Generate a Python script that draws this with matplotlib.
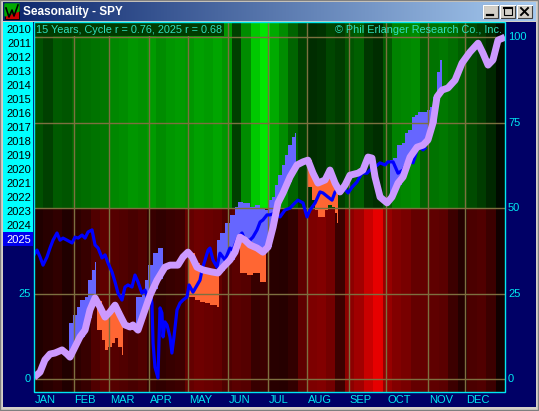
import numpy as np
import matplotlib.pyplot as plt
from matplotlib.patches import Rectangle
from matplotlib.colors import LinearSegmentedColormap

plt.rcParams['font.family'] = ['Liberation Sans', 'DejaVu Sans']

# x axis is in trading days (0..250), y axis is the 0..100 seasonal scale
month_labels = ['JAN', 'FEB', 'MAR', 'APR', 'MAY', 'JUN', 'JUL', 'AUG', 'SEP', 'OCT', 'NOV', 'DEC']
month_starts = [0, 21, 40, 61, 82, 103, 124, 145, 167, 187, 209, 229]
year_days = 250
years = [str(y) for y in range(2010, 2026)]
scale_ticks = [0, 25, 50, 75, 100]

# 15 year seasonal cycle (lavender)
cycle_day = [0, 3.2, 5.8, 8.5, 11.1, 14.9, 17.5, 19.1, 21.8, 24.4,
             27.1, 29.7, 32.4, 35.0, 37.7, 40.3, 43.0, 45.6, 48.3, 51.0,
             52.5, 55.2, 58.9, 61.6, 65.3, 69.5, 72.2, 76.4, 79.1, 81.7,
             83.9, 86.5, 89.7, 94.5, 97.7, 100.3, 104.0, 106.7, 109.3, 112.0,
             114.6, 118.4, 121.5, 124.2, 126.9, 129.5, 132.2, 135.9, 139.6, 142.8,
             145.4, 148.1, 150.7, 154.5, 157.1, 159.8, 162.4, 165.1, 167.7, 172.0,
             174.6, 177.3, 179.4, 181.0, 183.7, 187.4, 190.0, 193.2, 195.9, 199.6,
             203.3, 206.5, 209.1, 211.8, 213.9, 216.6, 219.7, 223.5, 227.2, 231.4,
             235.7, 238.3, 241.0, 243.6, 246.3, 248.9, 250.0]
cycle_val = [0.5, 2.0, 5.6, 7.3, 7.6, 8.5, 7.3, 6.4, 9.4, 12.3,
             14.3, 20.2, 23.7, 21.1, 18.1, 19.6, 21.6, 18.7, 15.8, 15.2,
             15.8, 14.3, 20.2, 24.5, 28.9, 32.7, 33.3, 33.3, 35.7, 37.1,
             35.7, 32.7, 31.9, 31.3, 31.0, 32.7, 34.8, 37.1, 41.5, 40.6,
             39.2, 38.3, 37.1, 38.6, 44.4, 51.5, 54.4, 59.1, 62.6, 63.5,
             64.0, 60.2, 57.3, 58.2, 61.1, 57.3, 54.7, 56.7, 59.6, 60.2,
             61.1, 64.9, 64.6, 59.1, 53.2, 51.5, 53.2, 57.3, 59.1, 64.9,
             67.8, 68.4, 69.9, 74.9, 82.5, 84.5, 85.1, 87.4, 92.4, 95.6,
             98.2, 95.3, 91.8, 93.3, 99.1, 99.7, 100.0]

# 2025 year to date (blue)
y2025_day = [0, 1.6, 3.2, 4.8, 6.9, 8.5, 10.1, 12.2, 13.8, 15.4,
             17.5, 20.2, 21.8, 23.4, 25.5, 27.1, 28.7, 30.8, 32.4, 34.0,
             36.1, 37.7, 39.3, 41.4, 43.0, 44.6, 46.7, 48.3, 49.9, 52.0,
             53.6, 55.2, 57.3, 58.9, 60.0, 61.6, 62.6, 63.2, 64.2, 65.8,
             66.3, 66.9, 67.9, 68.5, 69.5, 70.6, 72.2, 73.2, 74.3, 75.9,
             77.5, 79.1, 81.2, 82.3, 84.4, 86.0, 88.1, 89.2, 90.8, 92.4,
             93.4, 95.0, 97.1, 98.7, 101.4, 104.0, 105.6, 108.3, 110.4, 112.0,
             114.6, 116.2, 118.4, 120.0, 121.5, 123.7, 125.3, 127.9, 130.6, 133.2,
             135.9, 138.5, 140.1, 142.8, 144.9, 146.5, 149.2, 151.8, 153.4, 156.1,
             158.2, 159.8, 161.4, 164.0, 166.7, 168.8, 171.4, 174.1, 176.8, 178.3,
             181.0, 183.7, 186.3, 187.9, 190.6, 193.2, 195.9, 198.5, 201.2, 203.3,
             204.9, 206.5, 207.5]
y2025_val = [36.3, 37.7, 35.7, 33.3, 35.7, 38.3, 40.6, 42.7, 40.6, 41.2,
             40.6, 39.8, 41.5, 41.2, 42.1, 41.2, 43.0, 43.6, 39.2, 38.3,
             35.4, 36.3, 33.9, 31.3, 28.4, 25.1, 23.1, 26.9, 27.5, 26.9,
             30.4, 28.4, 25.1, 26.0, 24.0, 25.4, 22.2, 10.5, 3.5, 0.3,
             10.5, 20.8, 19.3, 12.3, 16.7, 15.8, 12.3, 7.6, 12.3, 20.2,
             22.2, 23.1, 24.0, 27.5, 25.4, 26.9, 28.9, 31.9, 34.8, 37.7,
             38.3, 34.8, 32.7, 36.8, 34.8, 38.3, 37.7, 41.5, 42.7, 40.6,
             40.6, 41.5, 43.6, 45.9, 46.5, 48.0, 48.0, 48.5, 47.4, 49.4,
             50.0, 51.5, 52.3, 51.5, 47.4, 49.4, 51.5, 54.7, 54.4, 53.2,
             52.3, 54.7, 55.3, 56.1, 54.4, 56.1, 57.6, 60.2, 60.2, 61.1,
             62.0, 63.2, 62.6, 63.5, 63.5, 60.2, 61.1, 64.0, 63.2, 67.0,
             67.8, 67.0, 67.5]

# bands above the cycle (blue fill)
up1_day = [18.6, 20.7, 22.8, 24.4, 27.1, 28.7, 30.8, 32.4, 32.9]
up1_val = [16.4, 18.7, 21.1, 23.1, 24.0, 28.9, 31.9, 34.2, 34.2]
up2_day = [54.1, 57.3, 58.9, 60.5, 63.2, 65.8, 68.5]
up2_val = [24.0, 25.1, 28.9, 33.3, 36.8, 38.3, 39.8]
up3_day = [97.1, 98.7, 101.4, 104.0, 106.7, 108.3, 110.9, 114.6, 117.3, 120.0, 122.6,
           124.2, 126.3, 127.9, 129.5, 131.6, 133.2, 134.8, 136.9, 138.5, 139.1]
up3_val = [40.6, 42.7, 45.6, 48.0, 50.3, 51.8, 51.5, 50.3, 50.9, 50.0, 49.4,
           52.3, 53.2, 56.7, 59.6, 62.6, 65.5, 68.4, 70.8, 71.9, 71.9]
up4_day = [189.0, 190.6, 192.7, 195.3, 196.9, 198.5, 200.6, 202.2, 203.8, 206.5,
           208.6, 210.2, 211.8, 213.9, 215.5, 216.6]
up4_val = [64.0, 64.6, 68.4, 69.0, 71.9, 72.8, 76.6, 77.2, 78.1, 78.1,
           78.7, 79.5, 82.5, 89.8, 93.3, 93.3]

# bands below the cycle (orange fill)
dn1_day = [33.4, 36.1, 37.7, 39.3, 41.4, 43.0, 44.6, 46.7, 47.2]
dn1_val = [14.3, 11.4, 8.5, 9.4, 10.5, 12.0, 9.4, 7.0, 6.4]
dn2_day = [82.3, 85.5, 88.1, 90.8, 93.4, 97.1, 98.2]
dn2_val = [24.0, 23.1, 22.5, 22.2, 21.6, 21.1, 21.1]
dn3_day = [109.3, 113.1, 116.2, 120.0, 123.1]
dn3_val = [31.0, 30.4, 31.0, 28.4, 26.9]
dn4_day = [145.4, 147.6, 149.2, 150.7, 152.9, 154.5, 156.1, 158.2, 159.8, 160.8, 161.4]
dn4_val = [56.1, 52.3, 49.4, 47.4, 47.4, 49.4, 50.9, 50.3, 48.5, 45.6, 45.0]

# weekly heat stripes, 0..255 intensity
green_level = [80, 64, 90, 85, 105, 110, 115, 120, 135, 140,
               150, 145, 155, 140, 150, 155, 150, 160, 155, 165,
               150, 64, 140, 200, 230, 170, 140, 100, 64, 45,
               50, 70, 60, 85, 95, 55, 45, 90, 130, 135,
               140, 100, 115, 120, 110, 95, 75, 60, 40, 12]
red_level = [32, 40, 48, 32, 45, 55, 80, 95, 85, 80,
             72, 80, 55, 48, 55, 60, 100, 110, 105, 100,
             80, 90, 85, 55, 60, 40, 38, 50, 95, 125,
             130, 115, 60, 140, 160, 200, 230, 150, 130, 120,
             100, 100, 95, 90, 60, 35, 75, 80, 60, 18]

W, H = 539, 411
fig = plt.figure(figsize=(W / 100, H / 100), dpi=100, facecolor='#d4d0c8')

# window frame, drawn in pixel coordinates
bg = fig.add_axes([0, 0, 1, 1], zorder=-1)
bg.set_xlim(0, W)
bg.set_ylim(H, 0)
bg.axis('off')
bg.add_patch(Rectangle((0, 0), W - 1, H - 1, fc='none', ec='#808080', lw=1))
grad = np.linspace(0, 1, 256).reshape(1, -1)
title_cmap = LinearSegmentedColormap.from_list('tb', ['#0a246a', '#a6caf0'])
bg.imshow(grad, extent=(3, 536, 21, 2), aspect='auto', cmap=title_cmap)
bg.add_patch(Rectangle((3, 22), 533, 385, fc='#000066', ec='none'))
bg.add_patch(Rectangle((3, 22), 30, 210, fc='#00ffff', ec='none'))
bg.add_patch(Rectangle((3, 232), 30, 14, fc='#0000ee', ec='none'))
# icon
bg.add_patch(Rectangle((5, 4), 14, 15, fc='#cc0000', ec='#000000', lw=0.6))
bg.fill([5, 19, 19, 5], [4, 4, 11, 16], color='#00aa00')
bg.plot([6, 9, 12, 14, 18], [8, 17, 10, 16, 5], color='black', lw=1.2)
bg.text(23, 12, 'Seasonality - SPY', color='white', fontsize=8.5,
        fontweight='bold', va='center', ha='left')
# caption buttons
for bx in [483, 500, 517]:
    bg.add_patch(Rectangle((bx, 5), 15, 13, fc='#d4d0c8', ec='#404040', lw=0.8))
    bg.plot([bx, bx, bx + 15], [18, 5, 5], color='white', lw=0.8)
bg.plot([487, 493], [15, 15], color='black', lw=1.6)
bg.add_patch(Rectangle((503.5, 7.5), 8, 8, fc='none', ec='black', lw=0.8))
bg.plot([503.5, 511.5], [8, 8], color='black', lw=1.5)
bg.plot([521, 528], [8, 15], color='black', lw=1.4)
bg.plot([521, 528], [15, 8], color='black', lw=1.4)

# main chart area
ax = fig.add_axes([34 / W, (H - 392) / H, 471 / W, 370 / H])
ax.set_xlim(0, year_days)
ax.set_ylim(-3.8, 104.4)
ax.axis('off')

wk = np.arange(len(green_level)) * 5
ax.bar(wk, 104.4 - 50, bottom=50, width=5, align='edge', lw=0,
       color=[(0, g / 255, 0) for g in green_level], zorder=0)
ax.bar(wk, 50 + 3.8, bottom=-3.8, width=5, align='edge', lw=0,
       color=[(r / 255, 0, 0) for r in red_level], zorder=0)

for d, v in [(up1_day, up1_val), (up2_day, up2_val), (up3_day, up3_val), (up4_day, up4_val)]:
    base = np.interp(d, cycle_day, cycle_val)
    ax.fill_between(d, base, v, step='post', color='#6666ff', lw=0, zorder=2)
for d, v in [(dn1_day, dn1_val), (dn2_day, dn2_val), (dn3_day, dn3_val), (dn4_day, dn4_val)]:
    base = np.interp(d, cycle_day, cycle_val)
    ax.fill_between(d, v, base, step='post', color='#ff6633', lw=0, zorder=2)

for m in month_starts[1:]:
    ax.axvline(m, color='#7d7040', lw=1, zorder=3)
for t in scale_ticks:
    ax.axhline(t, color='#7d7040', lw=1, zorder=3)

ax.plot(y2025_day, y2025_val, color='#0000ff', lw=2.3, zorder=4)
ax.plot(cycle_day, cycle_val, color='#cc99ff', lw=5, zorder=5, solid_capstyle='butt')

# overlay: labels and borders in pixel coordinates
ov = fig.add_axes([0, 0, 1, 1], zorder=5)
ov.set_xlim(0, W)
ov.set_ylim(H, 0)
ov.axis('off')
ov.patch.set_alpha(0)
ov.add_patch(Rectangle((34, 22.5), 190, 14, fc='#003c00', ec='none'))
ov.text(36, 30, '15 Years, Cycle r = 0.76, 2025 r = 0.68', color='#30e0c0',
        fontsize=7.8, va='center', ha='left')
ov.text(502, 30, '\u00a9 Phil Erlanger Research Co., Inc.', color='#30e0c0',
        fontsize=7.8, va='center', ha='right')
ov.add_patch(Rectangle((33.5, 22), 471.5, 370, fc='none', ec='#00e8f0', lw=1))

for i, yr in enumerate(years):
    ov.text(31, 30 + 14 * i, yr, color='white' if yr == '2025' else 'black',
            fontsize=8, va='center', ha='right')

px_per_unit = (379 - 37) / 100
for t in scale_ticks:
    ypx = 379 - t * px_per_unit
    ov.text(508, ypx, str(t), color='#00e8f0', fontsize=8, va='center', ha='left')
    if t <= 25:
        ov.text(31, ypx, str(t), color='#00e8f0', fontsize=8, va='center', ha='right')

px_per_day = 471 / year_days
for lab, m in zip(month_labels, month_starts):
    ov.text(34 + m * px_per_day + 1, 400, lab, color='#00e8f0', fontsize=8,
            va='center', ha='left')

fig.savefig('out.png', dpi=100, facecolor=fig.get_facecolor())
